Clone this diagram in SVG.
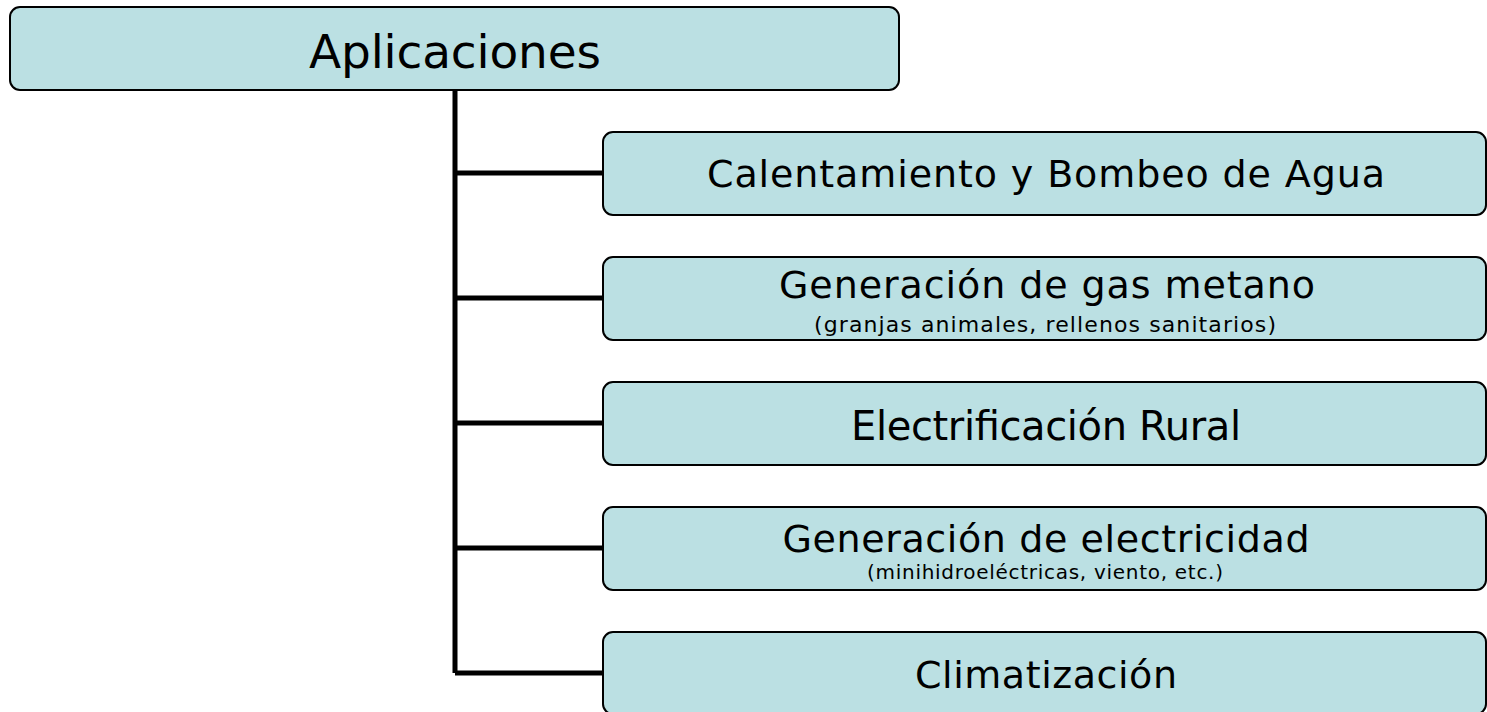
<svg xmlns="http://www.w3.org/2000/svg" width="1487" height="712" viewBox="0 0 1487 712">
<style>
.box{fill:#BBE0E3;stroke:#000;stroke-width:2}
.t{font-family:"DejaVu Sans",Verdana,sans-serif;fill:#000;text-anchor:middle}
.big{font-size:38px}
.conn{stroke:#000;stroke-width:5;fill:none}
</style>
<rect width="1487" height="712" fill="#fff"/>
<g id="connectors">
<path class="conn" d="M455,90 V673 M455,173 H603 M455,298 H603 M455,423 H603 M455,548 H603 M455,673 H603"/>
</g>
<g id="root">
<rect class="box" x="10" y="7" width="889" height="83" rx="10"/>
<text class="t" x="455" y="68" font-size="47" textLength="292">Aplicaciones</text>
</g>
<g id="n1">
<rect class="box" x="603" y="132" width="883" height="83" rx="10"/>
<text class="t big" x="1046" y="187" textLength="678">Calentamiento y Bombeo de Agua</text>
</g>
<g id="n2">
<rect class="box" x="603" y="257" width="883" height="83" rx="10"/>
<text class="t big" x="1047" y="298" textLength="536">Generación de gas metano</text>
<text class="t" x="1045" y="332" font-size="22" textLength="462">(granjas animales, rellenos sanitarios)</text>
</g>
<g id="n3">
<rect class="box" x="603" y="382" width="883" height="83" rx="10"/>
<text class="t" x="1046" y="440" font-size="40" textLength="390">Electrificación Rural</text>
</g>
<g id="n4">
<rect class="box" x="603" y="507" width="883" height="83" rx="10"/>
<text class="t big" x="1046" y="552" textLength="527">Generación de electricidad</text>
<text class="t" x="1045" y="579" font-size="20" textLength="356">(minihidroeléctricas, viento, etc.)</text>
</g>
<g id="n5">
<rect class="box" x="603" y="632" width="883" height="82" rx="10"/>
<text class="t big" x="1046" y="688" textLength="262">Climatización</text>
</g>
</svg>
